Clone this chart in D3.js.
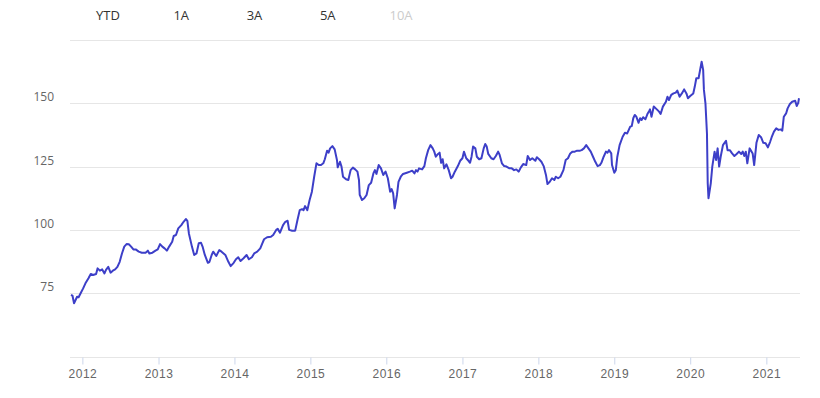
<!DOCTYPE html>
<html>
<head>
<meta charset="utf-8">
<script src="https://cdn.jsdelivr.net/npm/d3@7"></script>
<style>
  body { margin: 0; background: #fff; }
  svg { display: block; font-family: "Open Sans", sans-serif; }
  .grid line { stroke: #e6e6e6; }
  .axis text { fill: #666; font-size: 12px; }
</style>
</head>
<body>
<script>
// range selector labels
const buttons = ["YTD", "1A", "3A", "5A", "10A"];
const disabledButton = "10A";

// decimal years and index values
const years = [
  2011.85, 2011.87, 2011.89, 2011.93, 2011.95, 2011.98, 2012.01, 2012.04, 2012.08, 2012.11,
  2012.14, 2012.18, 2012.20, 2012.23, 2012.26, 2012.29, 2012.31, 2012.34, 2012.37, 2012.40,
  2012.43, 2012.46, 2012.49, 2012.52, 2012.55, 2012.58, 2012.61, 2012.64, 2012.67, 2012.70,
  2012.74, 2012.78, 2012.83, 2012.86, 2012.88, 2012.92, 2012.96, 2012.99, 2013.02, 2013.05,
  2013.08, 2013.11, 2013.14, 2013.18, 2013.20, 2013.23, 2013.26, 2013.30, 2013.33, 2013.36,
  2013.38, 2013.40, 2013.44, 2013.47, 2013.50, 2013.53, 2013.56, 2013.58, 2013.61, 2013.65,
  2013.67, 2013.70, 2013.72, 2013.76, 2013.80, 2013.83, 2013.88, 2013.92, 2013.95, 2013.99,
  2014.02, 2014.05, 2014.08, 2014.12, 2014.16, 2014.19, 2014.23, 2014.26, 2014.30, 2014.34,
  2014.37, 2014.39, 2014.43, 2014.48, 2014.51, 2014.55, 2014.57, 2014.60, 2014.64, 2014.67,
  2014.70, 2014.72, 2014.76, 2014.80, 2014.83, 2014.86, 2014.89, 2014.91, 2014.93, 2014.96,
  2014.99, 2015.02, 2015.05, 2015.08, 2015.11, 2015.14, 2015.17, 2015.19, 2015.22, 2015.24,
  2015.26, 2015.29, 2015.32, 2015.35, 2015.36, 2015.39, 2015.41, 2015.43, 2015.47, 2015.50,
  2015.53, 2015.56, 2015.59, 2015.62, 2015.64, 2015.65, 2015.68, 2015.71, 2015.74, 2015.77,
  2015.80, 2015.83, 2015.85, 2015.87, 2015.90, 2015.93, 2015.96, 2015.99, 2016.02, 2016.05,
  2016.07, 2016.09, 2016.11, 2016.14, 2016.16, 2016.19, 2016.22, 2016.27, 2016.31, 2016.34,
  2016.37, 2016.39, 2016.41, 2016.43, 2016.47, 2016.50, 2016.52, 2016.55, 2016.58, 2016.61,
  2016.63, 2016.65, 2016.68, 2016.70, 2016.72, 2016.74, 2016.76, 2016.79, 2016.82, 2016.85,
  2016.87, 2016.90, 2016.94, 2016.97, 2017.00, 2017.02, 2017.05, 2017.08, 2017.10, 2017.12,
  2017.14, 2017.17, 2017.19, 2017.22, 2017.25, 2017.28, 2017.30, 2017.32, 2017.34, 2017.38,
  2017.41, 2017.44, 2017.47, 2017.49, 2017.52, 2017.55, 2017.58, 2017.62, 2017.65, 2017.68,
  2017.71, 2017.74, 2017.77, 2017.80, 2017.84, 2017.86, 2017.89, 2017.92, 2017.96, 2017.98,
  2018.01, 2018.04, 2018.07, 2018.10, 2018.12, 2018.15, 2018.18, 2018.21, 2018.23, 2018.26,
  2018.29, 2018.33, 2018.36, 2018.39, 2018.42, 2018.45, 2018.48, 2018.51, 2018.55, 2018.57,
  2018.60, 2018.63, 2018.66, 2018.69, 2018.72, 2018.75, 2018.78, 2018.81, 2018.83, 2018.86,
  2018.89, 2018.91, 2018.93, 2018.96, 2018.97, 2019.00, 2019.02, 2019.04, 2019.07, 2019.11,
  2019.14, 2019.17, 2019.21, 2019.23, 2019.25, 2019.27, 2019.29, 2019.32, 2019.34, 2019.36,
  2019.38, 2019.41, 2019.44, 2019.46, 2019.47, 2019.49, 2019.52, 2019.56, 2019.59, 2019.61,
  2019.64, 2019.68, 2019.70, 2019.72, 2019.75, 2019.78, 2019.81, 2019.83, 2019.86, 2019.89,
  2019.92, 2019.95, 2019.97, 2020.00, 2020.04, 2020.06, 2020.08, 2020.11, 2020.13, 2020.15,
  2020.17, 2020.18, 2020.20, 2020.22, 2020.23, 2020.24, 2020.27, 2020.29, 2020.32, 2020.34,
  2020.36, 2020.38, 2020.40, 2020.43, 2020.47, 2020.49, 2020.52, 2020.55, 2020.58, 2020.61,
  2020.64, 2020.67, 2020.69, 2020.71, 2020.73, 2020.75, 2020.78, 2020.82, 2020.84, 2020.87,
  2020.90, 2020.93, 2020.96, 2020.99, 2021.02, 2021.05, 2021.07, 2021.10, 2021.13, 2021.16,
  2021.19, 2021.21, 2021.23, 2021.26, 2021.28, 2021.31, 2021.34, 2021.38, 2021.40, 2021.42,
  2021.43
];
const values = [
  74.3, 74.0, 71.0, 73.6, 73.4, 75.2, 76.9, 78.9, 80.9, 82.6,
  82.2, 82.6, 84.8, 83.9, 84.4, 82.8, 84.2, 85.4, 83.1, 83.9,
  84.4, 85.4, 87.4, 90.7, 93.4, 94.4, 94.3, 93.4, 92.3, 92.3,
  91.4, 91.0, 91.0, 91.8, 90.7, 91.0, 91.8, 92.3, 94.4, 93.4,
  92.7, 91.8, 93.4, 95.3, 97.6, 98.0, 100.6, 101.9, 103.2, 104.3,
  103.6, 98.6, 93.4, 90.1, 90.7, 94.7, 94.9, 93.4, 90.1, 87.0,
  87.3, 90.1, 91.4, 89.7, 92.0, 91.4, 90.1, 87.4, 85.7, 87.0,
  88.4, 89.2, 87.7, 88.8, 90.1, 88.4, 89.2, 90.7, 91.4, 92.7,
  94.9, 96.3, 97.1, 97.3, 98.0, 100.0, 100.4, 98.9, 101.9, 103.2,
  103.6, 100.0, 99.7, 99.7, 103.9, 107.8, 108.2, 107.8, 109.4, 107.8,
  111.8, 115.1, 121.0, 126.3, 125.6, 125.6, 126.3, 127.9, 131.3, 130.5,
  132.2, 133.1, 131.8, 127.6, 124.7, 126.9, 125.0, 121.0, 120.0, 119.7,
  123.6, 124.6, 123.9, 123.0, 119.7, 113.8, 111.8, 112.5, 113.8, 117.7,
  118.6, 122.3, 123.6, 122.1, 125.6, 124.3, 121.7, 123.0, 120.4, 115.1,
  116.1, 114.4, 108.5, 113.8, 119.0, 121.0, 122.1, 122.6, 123.0, 123.4,
  122.3, 123.6, 123.0, 124.3, 123.9, 125.2, 128.3, 131.5, 133.5, 132.2,
  130.9, 128.9, 130.0, 130.5, 126.5, 127.9, 124.3, 125.9, 123.6, 120.4,
  121.0, 123.0, 125.2, 127.3, 128.3, 130.9, 128.3, 127.3, 126.5, 128.9,
  132.9, 132.2, 128.9, 127.9, 128.3, 132.2, 133.9, 132.9, 130.0, 128.3,
  127.9, 129.2, 130.9, 129.6, 126.3, 125.2, 125.0, 124.3, 124.3, 123.6,
  123.9, 123.0, 124.7, 126.0, 125.6, 129.2, 127.6, 128.3, 127.3, 128.7,
  127.9, 126.9, 125.2, 121.7, 118.1, 119.0, 120.4, 119.7, 121.0, 120.4,
  121.0, 123.6, 127.6, 128.3, 130.2, 130.9, 130.9, 131.3, 131.3, 131.5,
  132.2, 133.5, 132.2, 130.9, 128.9, 126.9, 125.2, 125.6, 126.5, 128.9,
  130.9, 130.5, 131.5, 130.2, 125.6, 122.6, 123.6, 128.9, 133.5, 136.8,
  138.4, 138.1, 140.8, 141.0, 144.1, 145.4, 144.7, 142.3, 144.1, 143.4,
  144.5, 143.7, 146.0, 147.0, 147.6, 144.7, 148.7, 147.6, 146.7, 145.8,
  148.7, 150.6, 152.6, 151.3, 153.3, 153.9, 154.2, 155.0, 152.6, 153.9,
  155.5, 153.9, 152.0, 152.9, 153.9, 156.6, 159.9, 159.9, 163.2, 166.4,
  163.2, 155.3, 150.0, 138.1, 118.4, 112.5, 118.4, 125.0, 130.9, 127.6,
  132.2, 125.0, 128.9, 133.5, 135.2, 131.5, 131.5, 130.2, 129.2, 130.0,
  130.9, 130.0, 130.9, 129.2, 130.9, 126.3, 132.2, 130.2, 125.6, 134.4,
  137.5, 136.6, 134.4, 134.2, 132.6, 134.8, 136.6, 138.8, 140.1, 139.5,
  139.7, 139.2, 144.7, 146.0, 148.0, 149.7, 150.6, 151.0, 148.9, 150.2,
  152.0
];

const yGrid = [50, 75, 100, 125, 150, 175];
const yLabels = [75, 100, 125, 150];

const w = 820;
const h = 398;
const margin = { top: 40, right: 20, bottom: 41.5, left: 70 };

function toDate(t){
  const y = Math.floor(t);
  const start = new Date(y, 0, 1), end = new Date(y + 1, 0, 1);
  return new Date(+start + (t - y) * (end - start));
}

const data = years.map((t, i) => ({ date: toDate(t), value: values[i] }));

const svg = d3.select("body")
  .append("svg")
    .attr("width", w)
    .attr("height", h);

// range selector
const btnX = d3.scalePoint().domain(buttons).range([108, 401]);
svg.append("g")
  .selectAll("text")
  .data(buttons)
  .enter()
    .append("text")
    .attr("x", d => btnX(d))
    .attr("y", 20)
    .attr("text-anchor", "middle")
    .style("font-size", "13px")
    .style("fill", d => d === disabledButton ? "#cccccc" : "#333333")
    .text(d => d);

const x = d3.scaleTime()
  .domain(d3.extent(data, d => d.date))
  .range([margin.left + 1, w - margin.right - 1]);

const y = d3.scaleLinear()
  .domain([50, 175])
  .range([h - margin.bottom, margin.top]);

// horizontal grid
svg.append("g")
  .classed("grid", true)
  .selectAll("line")
  .data(yGrid.slice(1))
  .enter()
    .append("line")
    .attr("x1", margin.left)
    .attr("x2", w - margin.right)
    .attr("y1", d => Math.round(y(d)) + 0.5)
    .attr("y2", d => Math.round(y(d)) + 0.5);

// y labels
svg.append("g")
  .classed("axis", true)
  .selectAll("text")
  .data(yLabels)
  .enter()
    .append("text")
    .attr("x", 54)
    .attr("y", d => y(d) - 2)
    .attr("text-anchor", "end")
    .text(d => d);

// x axis
const xAxis = d3.axisBottom(x)
  .ticks(d3.timeYear.every(1))
  .tickFormat(d3.timeFormat("%Y"))
  .tickSize(7)
  .tickPadding(5);

const gx = svg.append("g")
  .classed("axis", true)
  .attr("transform", "translate(0," + (Math.round(y(50)) + 0.5) + ")")
  .call(xAxis);
gx.select(".domain").remove();
gx.selectAll(".tick line").attr("stroke", "#ccd6eb");
gx.selectAll(".tick text").attr("dy", "0.71em").style("letter-spacing", "0.5px");
gx.insert("line", ":first-child")
  .attr("x1", margin.left)
  .attr("x2", w - margin.right)
  .attr("stroke", "#e6e6e6");

const line = d3.line()
  .x(d => x(d.date))
  .y(d => y(d.value));

svg.append("path")
  .datum(data)
  .attr("d", line)
  .attr("fill", "none")
  .attr("stroke", "#3d3fc8")
  .attr("stroke-width", 2)
  .attr("stroke-linejoin", "round");
</script>
</body>
</html>
